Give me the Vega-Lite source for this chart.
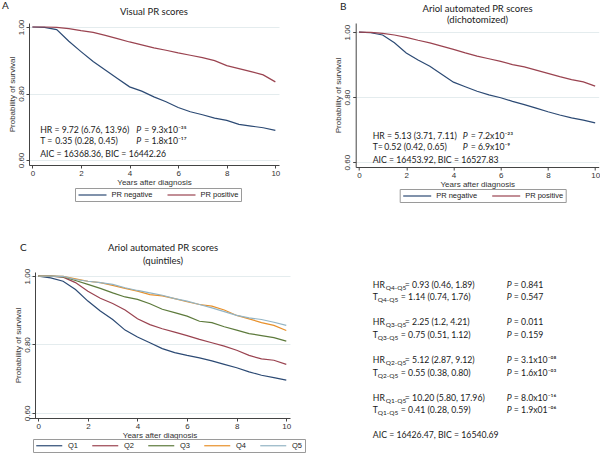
{
  "$schema": "https://vega.github.io/schema/vega-lite/v6.json",
  "background": "white",
  "padding": {"left": 2, "top": 1, "right": 0, "bottom": 0},
  "datasets": {
    "km": [
      {"p":"A","g":"PR negative","t":0,"s":1},{"p":"A","g":"PR negative","t":0.5,"s":0.999},{"p":"A","g":"PR negative","t":1,"s":0.992},{"p":"A","g":"PR negative","t":1.5,"s":0.957},{"p":"A","g":"PR negative","t":2,"s":0.926},{"p":"A","g":"PR negative","t":2.5,"s":0.896},{"p":"A","g":"PR negative","t":3,"s":0.871},{"p":"A","g":"PR negative","t":3.5,"s":0.845},{"p":"A","g":"PR negative","t":4,"s":0.82},{"p":"A","g":"PR negative","t":4.5,"s":0.807},{"p":"A","g":"PR negative","t":5,"s":0.79},{"p":"A","g":"PR negative","t":5.5,"s":0.775},{"p":"A","g":"PR negative","t":6,"s":0.758},{"p":"A","g":"PR negative","t":6.5,"s":0.745},{"p":"A","g":"PR negative","t":7,"s":0.736},{"p":"A","g":"PR negative","t":7.5,"s":0.726},{"p":"A","g":"PR negative","t":8,"s":0.719},{"p":"A","g":"PR negative","t":8.5,"s":0.707},{"p":"A","g":"PR negative","t":9,"s":0.702},{"p":"A","g":"PR negative","t":9.5,"s":0.697},{"p":"A","g":"PR negative","t":10,"s":0.689},
      {"p":"A","g":"PR positive","t":0,"s":1},{"p":"A","g":"PR positive","t":0.5,"s":1},{"p":"A","g":"PR positive","t":1,"s":0.999},{"p":"A","g":"PR positive","t":1.5,"s":0.995},{"p":"A","g":"PR positive","t":2,"s":0.989},{"p":"A","g":"PR positive","t":2.5,"s":0.984},{"p":"A","g":"PR positive","t":3,"s":0.975},{"p":"A","g":"PR positive","t":3.5,"s":0.965},{"p":"A","g":"PR positive","t":4,"s":0.955},{"p":"A","g":"PR positive","t":4.5,"s":0.946},{"p":"A","g":"PR positive","t":5,"s":0.937},{"p":"A","g":"PR positive","t":5.5,"s":0.93},{"p":"A","g":"PR positive","t":6,"s":0.922},{"p":"A","g":"PR positive","t":6.5,"s":0.915},{"p":"A","g":"PR positive","t":7,"s":0.908},{"p":"A","g":"PR positive","t":7.5,"s":0.899},{"p":"A","g":"PR positive","t":8,"s":0.884},{"p":"A","g":"PR positive","t":8.5,"s":0.875},{"p":"A","g":"PR positive","t":9,"s":0.866},{"p":"A","g":"PR positive","t":9.5,"s":0.856},{"p":"A","g":"PR positive","t":10,"s":0.835},
      {"p":"B","g":"PR negative","t":0,"s":1},{"p":"B","g":"PR negative","t":0.5,"s":0.998},{"p":"B","g":"PR negative","t":1,"s":0.991},{"p":"B","g":"PR negative","t":1.5,"s":0.967},{"p":"B","g":"PR negative","t":2,"s":0.936},{"p":"B","g":"PR negative","t":2.5,"s":0.914},{"p":"B","g":"PR negative","t":3,"s":0.895},{"p":"B","g":"PR negative","t":3.5,"s":0.87},{"p":"B","g":"PR negative","t":4,"s":0.846},{"p":"B","g":"PR negative","t":4.5,"s":0.832},{"p":"B","g":"PR negative","t":5,"s":0.818},{"p":"B","g":"PR negative","t":5.5,"s":0.807},{"p":"B","g":"PR negative","t":6,"s":0.798},{"p":"B","g":"PR negative","t":6.5,"s":0.787},{"p":"B","g":"PR negative","t":7,"s":0.777},{"p":"B","g":"PR negative","t":7.5,"s":0.766},{"p":"B","g":"PR negative","t":8,"s":0.755},{"p":"B","g":"PR negative","t":8.5,"s":0.745},{"p":"B","g":"PR negative","t":9,"s":0.736},{"p":"B","g":"PR negative","t":9.5,"s":0.729},{"p":"B","g":"PR negative","t":10,"s":0.721},
      {"p":"B","g":"PR positive","t":0,"s":1},{"p":"B","g":"PR positive","t":0.5,"s":0.999},{"p":"B","g":"PR positive","t":1,"s":0.996},{"p":"B","g":"PR positive","t":1.5,"s":0.991},{"p":"B","g":"PR positive","t":2,"s":0.984},{"p":"B","g":"PR positive","t":2.5,"s":0.975},{"p":"B","g":"PR positive","t":3,"s":0.967},{"p":"B","g":"PR positive","t":3.5,"s":0.957},{"p":"B","g":"PR positive","t":4,"s":0.947},{"p":"B","g":"PR positive","t":4.5,"s":0.936},{"p":"B","g":"PR positive","t":5,"s":0.926},{"p":"B","g":"PR positive","t":5.5,"s":0.918},{"p":"B","g":"PR positive","t":6,"s":0.91},{"p":"B","g":"PR positive","t":6.5,"s":0.9},{"p":"B","g":"PR positive","t":7,"s":0.893},{"p":"B","g":"PR positive","t":7.5,"s":0.883},{"p":"B","g":"PR positive","t":8,"s":0.873},{"p":"B","g":"PR positive","t":8.5,"s":0.863},{"p":"B","g":"PR positive","t":9,"s":0.854},{"p":"B","g":"PR positive","t":9.5,"s":0.847},{"p":"B","g":"PR positive","t":10,"s":0.834},
      {"p":"C","g":"Q1","t":0,"s":1},{"p":"C","g":"Q1","t":0.5,"s":0.995},{"p":"C","g":"Q1","t":1,"s":0.985},{"p":"C","g":"Q1","t":1.5,"s":0.961},{"p":"C","g":"Q1","t":2,"s":0.927},{"p":"C","g":"Q1","t":2.5,"s":0.898},{"p":"C","g":"Q1","t":3,"s":0.873},{"p":"C","g":"Q1","t":3.5,"s":0.842},{"p":"C","g":"Q1","t":4,"s":0.822},{"p":"C","g":"Q1","t":4.5,"s":0.805},{"p":"C","g":"Q1","t":5,"s":0.788},{"p":"C","g":"Q1","t":5.5,"s":0.776},{"p":"C","g":"Q1","t":6,"s":0.768},{"p":"C","g":"Q1","t":6.5,"s":0.761},{"p":"C","g":"Q1","t":7,"s":0.752},{"p":"C","g":"Q1","t":7.5,"s":0.742},{"p":"C","g":"Q1","t":8,"s":0.732},{"p":"C","g":"Q1","t":8.5,"s":0.72},{"p":"C","g":"Q1","t":9,"s":0.71},{"p":"C","g":"Q1","t":9.5,"s":0.703},{"p":"C","g":"Q1","t":10,"s":0.696},
      {"p":"C","g":"Q2","t":0,"s":1},{"p":"C","g":"Q2","t":0.5,"s":1},{"p":"C","g":"Q2","t":1,"s":0.997},{"p":"C","g":"Q2","t":1.5,"s":0.981},{"p":"C","g":"Q2","t":2,"s":0.956},{"p":"C","g":"Q2","t":2.5,"s":0.935},{"p":"C","g":"Q2","t":3,"s":0.92},{"p":"C","g":"Q2","t":3.5,"s":0.901},{"p":"C","g":"Q2","t":4,"s":0.875},{"p":"C","g":"Q2","t":4.5,"s":0.858},{"p":"C","g":"Q2","t":5,"s":0.846},{"p":"C","g":"Q2","t":5.5,"s":0.836},{"p":"C","g":"Q2","t":6,"s":0.826},{"p":"C","g":"Q2","t":6.5,"s":0.815},{"p":"C","g":"Q2","t":7,"s":0.805},{"p":"C","g":"Q2","t":7.5,"s":0.795},{"p":"C","g":"Q2","t":8,"s":0.783},{"p":"C","g":"Q2","t":8.5,"s":0.768},{"p":"C","g":"Q2","t":9,"s":0.758},{"p":"C","g":"Q2","t":9.5,"s":0.754},{"p":"C","g":"Q2","t":10,"s":0.742},
      {"p":"C","g":"Q3","t":0,"s":1},{"p":"C","g":"Q3","t":0.5,"s":1},{"p":"C","g":"Q3","t":1,"s":0.998},{"p":"C","g":"Q3","t":1.5,"s":0.987},{"p":"C","g":"Q3","t":2,"s":0.976},{"p":"C","g":"Q3","t":2.5,"s":0.964},{"p":"C","g":"Q3","t":3,"s":0.951},{"p":"C","g":"Q3","t":3.5,"s":0.939},{"p":"C","g":"Q3","t":4,"s":0.932},{"p":"C","g":"Q3","t":4.5,"s":0.919},{"p":"C","g":"Q3","t":5,"s":0.903},{"p":"C","g":"Q3","t":5.5,"s":0.893},{"p":"C","g":"Q3","t":6,"s":0.883},{"p":"C","g":"Q3","t":6.5,"s":0.868},{"p":"C","g":"Q3","t":7,"s":0.864},{"p":"C","g":"Q3","t":7.5,"s":0.852},{"p":"C","g":"Q3","t":8,"s":0.842},{"p":"C","g":"Q3","t":8.5,"s":0.832},{"p":"C","g":"Q3","t":9,"s":0.826},{"p":"C","g":"Q3","t":9.5,"s":0.82},{"p":"C","g":"Q3","t":10,"s":0.81},
      {"p":"C","g":"Q4","t":0,"s":1},{"p":"C","g":"Q4","t":0.5,"s":1},{"p":"C","g":"Q4","t":1,"s":0.999},{"p":"C","g":"Q4","t":1.5,"s":0.992},{"p":"C","g":"Q4","t":2,"s":0.985},{"p":"C","g":"Q4","t":2.5,"s":0.981},{"p":"C","g":"Q4","t":3,"s":0.973},{"p":"C","g":"Q4","t":3.5,"s":0.964},{"p":"C","g":"Q4","t":4,"s":0.956},{"p":"C","g":"Q4","t":4.5,"s":0.946},{"p":"C","g":"Q4","t":5,"s":0.942},{"p":"C","g":"Q4","t":5.5,"s":0.934},{"p":"C","g":"Q4","t":6,"s":0.925},{"p":"C","g":"Q4","t":6.5,"s":0.917},{"p":"C","g":"Q4","t":7,"s":0.912},{"p":"C","g":"Q4","t":7.5,"s":0.901},{"p":"C","g":"Q4","t":8,"s":0.885},{"p":"C","g":"Q4","t":8.5,"s":0.875},{"p":"C","g":"Q4","t":9,"s":0.864},{"p":"C","g":"Q4","t":9.5,"s":0.856},{"p":"C","g":"Q4","t":10,"s":0.841},
      {"p":"C","g":"Q5","t":0,"s":1},{"p":"C","g":"Q5","t":0.5,"s":1},{"p":"C","g":"Q5","t":1,"s":0.999},{"p":"C","g":"Q5","t":1.5,"s":0.99},{"p":"C","g":"Q5","t":2,"s":0.985},{"p":"C","g":"Q5","t":2.5,"s":0.981},{"p":"C","g":"Q5","t":3,"s":0.976},{"p":"C","g":"Q5","t":3.5,"s":0.966},{"p":"C","g":"Q5","t":4,"s":0.958},{"p":"C","g":"Q5","t":4.5,"s":0.951},{"p":"C","g":"Q5","t":5,"s":0.944},{"p":"C","g":"Q5","t":5.5,"s":0.934},{"p":"C","g":"Q5","t":6,"s":0.927},{"p":"C","g":"Q5","t":6.5,"s":0.917},{"p":"C","g":"Q5","t":7,"s":0.907},{"p":"C","g":"Q5","t":7.5,"s":0.896},{"p":"C","g":"Q5","t":8,"s":0.885},{"p":"C","g":"Q5","t":8.5,"s":0.878},{"p":"C","g":"Q5","t":9,"s":0.873},{"p":"C","g":"Q5","t":9.5,"s":0.865},{"p":"C","g":"Q5","t":10,"s":0.856}
    ],
    "stats": [
      {"line":"HR Q4-Q5","stat":"HR","sub":"Q4-Q5","est":"= 0.93 (0.46, 1.89)","pv":"= 0.841"},
      {"line":"T Q4-Q5","stat":"T","sub":"Q4-Q5","est":"= 1.14 (0.74, 1.76)","pv":"= 0.547"},
      {"line":"HR Q3-Q5","stat":"HR","sub":"Q3-Q5","est":"= 2.25 (1.2, 4.21)","pv":"= 0.011"},
      {"line":"T Q3-Q5","stat":"T","sub":"Q3-Q5","est":"= 0.75 (0.51, 1.12)","pv":"= 0.159"},
      {"line":"HR Q2-Q5","stat":"HR","sub":"Q2-Q5","est":"= 5.12 (2.87, 9.12)","pv":"= 3.1x10⁻⁰⁸"},
      {"line":"T Q2-Q5","stat":"T","sub":"Q2-Q5","est":"= 0.55 (0.38, 0.80)","pv":"= 1.6x10⁻⁰³"},
      {"line":"HR Q1-Q5","stat":"HR","sub":"Q1-Q5","est":"= 10.20 (5.80, 17.96)","pv":"= 8.0x10⁻¹⁶"},
      {"line":"T Q1-Q5","stat":"T","sub":"Q1-Q5","est":"= 0.41 (0.28, 0.59)","pv":"= 1.9x01⁻⁰⁶"},
      {"line":"AIC","stat":"AIC = 16426.47, BIC = 16540.69"}
    ]
  },
  "columns": 2,
  "concat": [
    {
      "width": 250, "height": 142,
      "layer": [
        {
          "data": {"name": "km"},
          "transform": [{"filter": "datum.p === 'A'"}],
          "mark": {"type": "line", "strokeWidth": 1.2},
          "encoding": {
            "x": {"field": "t", "type": "quantitative", "scale": {"domain": [-0.14, 10.15], "nice": false, "zero": false}, "axis": {"values": [0,2,4,6,8,10], "title": "Years after diagnosis"}},
            "y": {"field": "s", "type": "quantitative", "scale": {"domain": [0.585, 1.012], "nice": false, "zero": false}, "axis": {"values": [0.6,0.8,1.0], "format": ".2f", "grid": true, "title": "Probability of survival", "labelAngle": -90, "labelAlign": "center", "labelBaseline": "bottom"}},
            "color": {"field": "g", "type": "nominal", "scale": {"domain": ["PR negative","PR positive"], "range": ["#2c4a74","#9a4350"]},
              "legend": {"orient": "none", "legendX": 46, "legendY": 165, "direction": "horizontal", "columns": 2, "title": null, "symbolType": "M-4,0H4", "symbolSize": 49, "symbolStrokeWidth": 1.2, "symbolOffset": 10.5, "labelOffset": 14.5, "columnPadding": 12, "padding": 2.5}}
          }
        },
        {"data": {"values": [{}]}, "mark": {"type": "text", "text": "A", "align": "left", "baseline": "middle", "fontSize": 10}, "encoding": {"x": {"datum": -1.25, "type": "quantitative"}, "y": {"datum": 1.062, "type": "quantitative"}}},
        {"data": {"values": [{}]}, "mark": {"type": "text", "text": "Visual PR scores", "align": "center", "baseline": "middle", "fontSize": 9.5}, "encoding": {"x": {"datum": 5.0, "type": "quantitative"}, "y": {"datum": 1.045, "type": "quantitative"}}},
        {"data": {"values": [{}]}, "mark": {"type": "text", "text": "HR = 9.72 (6.76, 13.96)", "align": "left", "baseline": "middle"}, "encoding": {"x": {"datum": 0.32, "type": "quantitative"}, "y": {"datum": 0.690, "type": "quantitative"}}},
        {"data": {"values": [{}]}, "mark": {"type": "text", "text": "P", "fontStyle": "italic", "align": "left", "baseline": "middle"}, "encoding": {"x": {"datum": 4.27, "type": "quantitative"}, "y": {"datum": 0.690, "type": "quantitative"}}},
        {"data": {"values": [{}]}, "mark": {"type": "text", "text": "= 9.3x10⁻³⁵", "align": "left", "baseline": "middle", "dx": 8}, "encoding": {"x": {"datum": 4.27, "type": "quantitative"}, "y": {"datum": 0.690, "type": "quantitative"}}},
        {"data": {"values": [{}]}, "mark": {"type": "text", "text": "T =", "align": "left", "baseline": "middle"}, "encoding": {"x": {"datum": 0.32, "type": "quantitative"}, "y": {"datum": 0.657, "type": "quantitative"}}},
        {"data": {"values": [{}]}, "mark": {"type": "text", "text": "0.35 (0.28, 0.45)", "align": "left", "baseline": "middle"}, "encoding": {"x": {"datum": 0.94, "type": "quantitative"}, "y": {"datum": 0.657, "type": "quantitative"}}},
        {"data": {"values": [{}]}, "mark": {"type": "text", "text": "P", "fontStyle": "italic", "align": "left", "baseline": "middle"}, "encoding": {"x": {"datum": 4.27, "type": "quantitative"}, "y": {"datum": 0.657, "type": "quantitative"}}},
        {"data": {"values": [{}]}, "mark": {"type": "text", "text": "= 1.8x10⁻¹⁷", "align": "left", "baseline": "middle", "dx": 8}, "encoding": {"x": {"datum": 4.27, "type": "quantitative"}, "y": {"datum": 0.657, "type": "quantitative"}}},
        {"data": {"values": [{}]}, "mark": {"type": "text", "text": "AIC = 16368.36, BIC = 16442.26", "align": "left", "baseline": "middle"}, "encoding": {"x": {"datum": 0.32, "type": "quantitative"}, "y": {"datum": 0.618, "type": "quantitative"}}}
      ]
    },
    {
      "width": 243, "height": 144,
      "layer": [
        {
          "data": {"name": "km"},
          "transform": [{"filter": "datum.p === 'B'"}],
          "mark": {"type": "line", "strokeWidth": 1.2},
          "encoding": {
            "x": {"field": "t", "type": "quantitative", "scale": {"domain": [-0.14, 10.15], "nice": false, "zero": false}, "axis": {"values": [0,2,4,6,8,10], "title": "Years after diagnosis"}},
            "y": {"field": "s", "type": "quantitative", "scale": {"domain": [0.585, 1.028], "nice": false, "zero": false}, "axis": {"values": [0.6,0.8,1.0], "format": ".2f", "grid": true, "title": "Probability of survival", "labelAngle": -90, "labelAlign": "center", "labelBaseline": "bottom"}},
            "color": {"field": "g", "type": "nominal", "scale": {"domain": ["PR negative","PR positive"], "range": ["#2c4a74","#9a4350"]},
              "legend": {"orient": "none", "legendX": 44, "legendY": 166, "direction": "horizontal", "columns": 2, "title": null, "symbolType": "M-4,0H4", "symbolSize": 49, "symbolStrokeWidth": 1.2, "symbolOffset": 10.5, "labelOffset": 14.5, "columnPadding": 12, "padding": 2.5}}
          }
        },
        {"data": {"values": [{}]}, "mark": {"type": "text", "text": "B", "align": "left", "baseline": "middle", "fontSize": 10}, "encoding": {"x": {"datum": -0.8, "type": "quantitative"}, "y": {"datum": 1.077, "type": "quantitative"}}},
        {"data": {"values": [{}]}, "mark": {"type": "text", "text": "Ariol automated PR scores", "align": "center", "baseline": "middle", "fontSize": 9.5}, "encoding": {"x": {"datum": 5.02, "type": "quantitative"}, "y": {"datum": 1.071, "type": "quantitative"}}},
        {"data": {"values": [{}]}, "mark": {"type": "text", "text": "(dichotomized)", "align": "center", "baseline": "middle", "fontSize": 9.5}, "encoding": {"x": {"datum": 5.02, "type": "quantitative"}, "y": {"datum": 1.037, "type": "quantitative"}}},
        {"data": {"values": [{}]}, "mark": {"type": "text", "text": "HR = 5.13 (3.71, 7.11)", "align": "left", "baseline": "middle"}, "encoding": {"x": {"datum": 0.58, "type": "quantitative"}, "y": {"datum": 0.679, "type": "quantitative"}}},
        {"data": {"values": [{}]}, "mark": {"type": "text", "text": "P", "fontStyle": "italic", "align": "left", "baseline": "middle"}, "encoding": {"x": {"datum": 4.39, "type": "quantitative"}, "y": {"datum": 0.679, "type": "quantitative"}}},
        {"data": {"values": [{}]}, "mark": {"type": "text", "text": "= 7.2x10⁻²³", "align": "left", "baseline": "middle", "dx": 8}, "encoding": {"x": {"datum": 4.39, "type": "quantitative"}, "y": {"datum": 0.679, "type": "quantitative"}}},
        {"data": {"values": [{}]}, "mark": {"type": "text", "text": "T=", "align": "left", "baseline": "middle"}, "encoding": {"x": {"datum": 0.58, "type": "quantitative"}, "y": {"datum": 0.645, "type": "quantitative"}}},
        {"data": {"values": [{}]}, "mark": {"type": "text", "text": "0.52 (0.42, 0.65)", "align": "left", "baseline": "middle"}, "encoding": {"x": {"datum": 1.07, "type": "quantitative"}, "y": {"datum": 0.645, "type": "quantitative"}}},
        {"data": {"values": [{}]}, "mark": {"type": "text", "text": "P", "fontStyle": "italic", "align": "left", "baseline": "middle"}, "encoding": {"x": {"datum": 4.39, "type": "quantitative"}, "y": {"datum": 0.645, "type": "quantitative"}}},
        {"data": {"values": [{}]}, "mark": {"type": "text", "text": "= 6.9x10⁻⁹", "align": "left", "baseline": "middle", "dx": 8}, "encoding": {"x": {"datum": 4.39, "type": "quantitative"}, "y": {"datum": 0.645, "type": "quantitative"}}},
        {"data": {"values": [{}]}, "mark": {"type": "text", "text": "AIC = 16453.92, BIC = 16527.83", "align": "left", "baseline": "middle"}, "encoding": {"x": {"datum": 0.58, "type": "quantitative"}, "y": {"datum": 0.607, "type": "quantitative"}}}
      ]
    },
    {
      "width": 261, "height": 146,
      "layer": [
        {
          "data": {"name": "km"},
          "transform": [{"filter": "datum.p === 'C'"}],
          "mark": {"type": "line", "strokeWidth": 1.2},
          "encoding": {
            "x": {"field": "t", "type": "quantitative", "scale": {"domain": [-0.375, 10.15], "nice": false, "zero": false}, "axis": {"values": [0,2,4,6,8,10], "title": "Years after diagnosis"}},
            "y": {"field": "s", "type": "quantitative", "scale": {"domain": [0.585, 1.012], "nice": false, "zero": false}, "axis": {"values": [0.6,0.8,1.0], "format": ".2f", "grid": true, "title": "Probability of survival", "labelAngle": -90, "labelAlign": "center", "labelBaseline": "bottom", "offset": -6}},
            "color": {"field": "g", "type": "nominal", "scale": {"domain": ["Q1","Q2","Q3","Q4","Q5"], "range": ["#2c4a74","#9a4350","#5d7a3c","#e8902a","#93b4c4"]},
              "legend": {"orient": "none", "legendX": 4, "legendY": 167, "direction": "horizontal", "columns": 5, "title": null, "symbolType": "M-4,0H4", "symbolSize": 42.25, "symbolStrokeWidth": 1.2, "symbolOffset": 9.75, "labelOffset": 14.75, "columnPadding": 11, "padding": 2.5}}
          }
        },
        {"data": {"values": [{}]}, "mark": {"type": "text", "text": "C", "align": "left", "baseline": "middle", "fontSize": 10}, "encoding": {"x": {"datum": -0.74, "type": "quantitative"}, "y": {"datum": 1.083, "type": "quantitative"}}},
        {"data": {"values": [{}]}, "mark": {"type": "text", "text": "Ariol automated PR scores", "align": "center", "baseline": "middle", "fontSize": 9.5}, "encoding": {"x": {"datum": 5.03, "type": "quantitative"}, "y": {"datum": 1.081, "type": "quantitative"}}},
        {"data": {"values": [{}]}, "mark": {"type": "text", "text": "(quintiles)", "align": "center", "baseline": "middle", "fontSize": 9.5}, "encoding": {"x": {"datum": 5.03, "type": "quantitative"}, "y": {"datum": 1.044, "type": "quantitative"}}}
      ]
    },
    {
      "width": 223, "height": 176,
      "data": {"name": "stats"},
      "encoding": {
        "y": {"field": "line", "type": "ordinal", "scale": {"type": "point", "padding": 1.44, "domain": ["HR Q4-Q5","T Q4-Q5","g1","HR Q3-Q5","T Q3-Q5","g2","HR Q2-Q5","T Q2-Q5","g3","HR Q1-Q5","T Q1-Q5","g4","AIC"]}, "axis": null}
      },
      "layer": [
        {"mark": {"type": "text", "align": "left", "baseline": "middle"}, "encoding": {"x": {"datum": 3, "type": "quantitative", "scale": {"domain": [-14.15, 208.85], "nice": false, "zero": false}, "axis": null}, "text": {"field": "stat"}}},
        {"transform": [{"filter": "datum.stat === 'HR'"}], "mark": {"type": "text", "align": "left", "baseline": "middle", "fontSize": 6.5, "dy": 3}, "encoding": {"x": {"datum": 16, "type": "quantitative", "scale": {"domain": [-14.15, 208.85], "nice": false, "zero": false}, "axis": null}, "text": {"field": "sub"}}},
        {"transform": [{"filter": "datum.stat === 'T'"}], "mark": {"type": "text", "align": "left", "baseline": "middle", "fontSize": 6.5, "dy": 3}, "encoding": {"x": {"datum": 8, "type": "quantitative", "scale": {"domain": [-14.15, 208.85], "nice": false, "zero": false}, "axis": null}, "text": {"field": "sub"}}},
        {"transform": [{"filter": "datum.stat === 'HR'"}], "mark": {"type": "text", "align": "left", "baseline": "middle"}, "encoding": {"x": {"datum": 35, "type": "quantitative", "scale": {"domain": [-14.15, 208.85], "nice": false, "zero": false}, "axis": null}, "text": {"field": "est"}}},
        {"transform": [{"filter": "datum.stat === 'T'"}], "mark": {"type": "text", "align": "left", "baseline": "middle"}, "encoding": {"x": {"datum": 31, "type": "quantitative", "scale": {"domain": [-14.15, 208.85], "nice": false, "zero": false}, "axis": null}, "text": {"field": "est"}}},
        {"transform": [{"filter": "datum.pv != null"}], "mark": {"type": "text", "align": "left", "baseline": "middle", "fontStyle": "italic", "text": "P"}, "encoding": {"x": {"datum": 137, "type": "quantitative", "scale": {"domain": [-14.15, 208.85], "nice": false, "zero": false}, "axis": null}}},
        {"transform": [{"filter": "datum.pv != null"}], "mark": {"type": "text", "align": "left", "baseline": "middle"}, "encoding": {"x": {"datum": 144, "type": "quantitative", "scale": {"domain": [-14.15, 208.85], "nice": false, "zero": false}, "axis": null}, "text": {"field": "pv"}}}
      ]
    }
  ],
  "spacing": {"row": 105, "column": 65.7},
  "bounds": "flush",
  "resolve": {"scale": {"color": "independent", "x": "independent", "y": "independent"}, "legend": {"color": "independent"}},
  "config": {
    "view": {"stroke": null},
    "font": "Lato",
    "text": {"font": "Lato", "fontSize": 8.7, "color": "#1a1a1a"},
    "axis": {
      "labelFont": "Liberation Sans Narrow, Liberation Sans, sans-serif",
      "titleFont": "Liberation Sans Narrow, Liberation Sans, sans-serif",
      "labelFontSize": 8, "titleFontSize": 8, "titleFontWeight": "normal",
      "labelColor": "#333", "titleColor": "#333", "domainColor": "#444", "tickColor": "#444",
      "tickSize": 3, "labelPadding": 1, "titlePadding": 1, "grid": false, "gridColor": "#e4ecee", "domainWidth": 1
    },
    "legend": {
      "labelFont": "Liberation Sans Narrow, Liberation Sans, sans-serif",
      "labelFontSize": 7.5, "labelColor": "#222", "strokeColor": "#9a9a9a", "fillColor": "white"
    }
  }
}
